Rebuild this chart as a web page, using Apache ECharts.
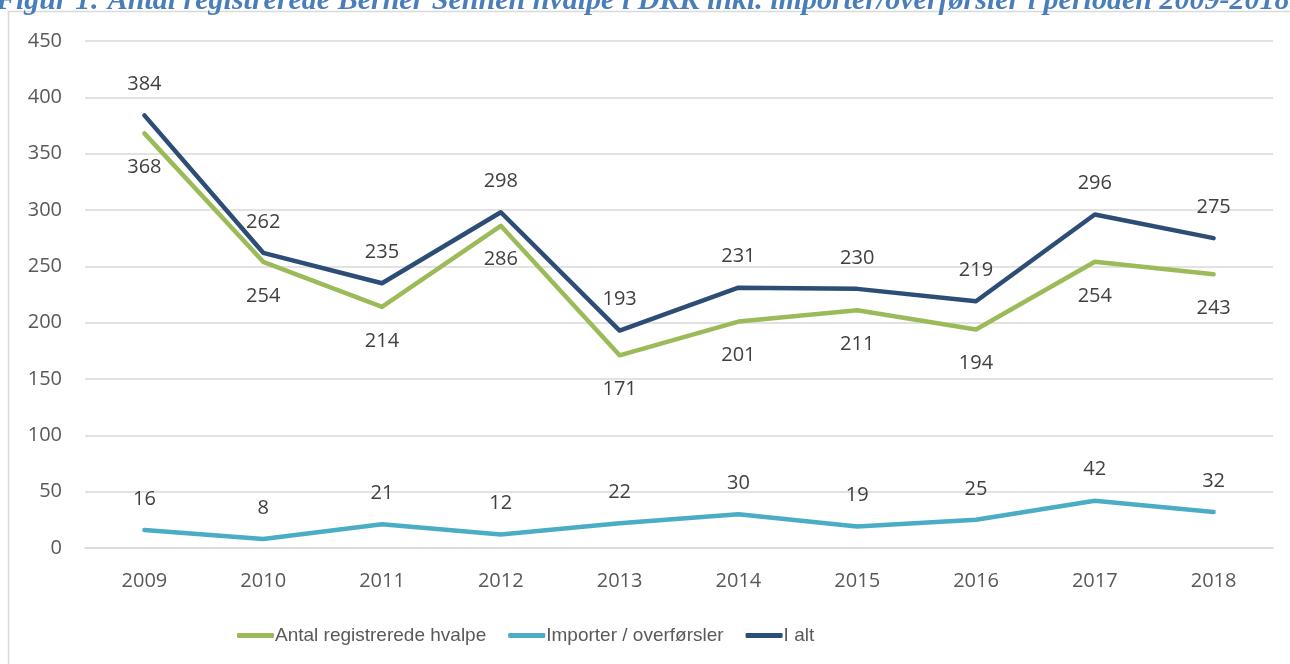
<!DOCTYPE html>
<html>
<head>
<meta charset="utf-8">
<script src="https://cdn.jsdelivr.net/npm/echarts@6/dist/echarts.min.js"></script>
<style>
  html, body { margin: 0; padding: 0; background: #fff; }
  #chart { width: 1290px; height: 664px; }
</style>
</head>
<body>
<div id="chart"></div>
<script>
const years = ['2009', '2010', '2011', '2012', '2013', '2014', '2015', '2016', '2017', '2018'];
const hvalpe = [368, 254, 214, 286, 171, 201, 211, 194, 254, 243];
const importer = [16, 8, 21, 12, 22, 30, 19, 25, 42, 32];
const iAlt = [384, 262, 235, 298, 193, 231, 230, 219, 296, 275];

const titleText = 'Figur 1: Antal registrerede Berner Sennen hvalpe i DKK inkl. importer/overførsler i perioden 2009-2018.';

const chart = echarts.init(document.getElementById('chart'));

const labelStyle = (pos, dist) => ({
    show: true,
    position: pos,
    distance: dist,
    color: '#404040',
    fontSize: 20,
    fontFamily: 'Open Sans'
});

const lineSeries = (name, data, color, pos, dist) => ({
    name: name,
    type: 'line',
    data: data,
    symbol: 'circle',
    symbolSize: 0,
    showSymbol: true,
    color: color,
    lineStyle: { width: 4.5, cap: 'round', join: 'round' },
    label: labelStyle(pos, dist)
});

const option = {
    animation: false,
    backgroundColor: '#fff',
    graphic: [
        {
            type: 'rect',
            shape: { x: 8.5, y: 11.5, width: 1300, height: 700 },
            style: { fill: 'none', stroke: '#D9D9D9', lineWidth: 1.5 },
            z: 0
        },
        {
            type: 'text',
            x: -4,
            y: 16,
            style: {
                text: titleText,
                fill: '#4A7EBB',
                font: 'italic bold 30px "Liberation Serif"',
                verticalAlign: 'bottom'
            }
        }
    ],
    grid: { left: 85, right: 17, top: 41, bottom: 116 },
    legend: {
        left: 232,
        top: 621,
        icon: 'roundRect',
        itemWidth: 37,
        itemHeight: 5,
        itemGap: 22,
        textStyle: { color: '#595959', fontSize: 19, fontFamily: 'Liberation Sans', padding: [0, 0, 0, -4] },
        data: ['Antal registrerede hvalpe', 'Importer / overførsler', 'I alt']
    },
    xAxis: {
        type: 'category',
        data: years,
        boundaryGap: true,
        axisLine: { show: true, lineStyle: { color: '#D9D9D9', width: 1.5 } },
        axisTick: { show: false },
        axisLabel: { color: '#595959', fontSize: 20, fontFamily: 'Open Sans', margin: 23 }
    },
    yAxis: {
        type: 'value',
        min: 0,
        max: 450,
        interval: 50,
        axisLine: { show: false },
        axisTick: { show: false },
        splitLine: { lineStyle: { color: '#D9D9D9', width: 1.5 } },
        axisLabel: { color: '#595959', fontSize: 20, fontFamily: 'Open Sans', margin: 23 }
    },
    series: [
        lineSeries('Antal registrerede hvalpe', hvalpe, '#9BBB59', 'bottom', 24),
        lineSeries('Importer / overførsler', importer, '#4BACC6', 'top', 21),
        lineSeries('I alt', iAlt, '#2C4D75', 'top', 21)
    ]
};

chart.setOption(option);
</script>
</body>
</html>
